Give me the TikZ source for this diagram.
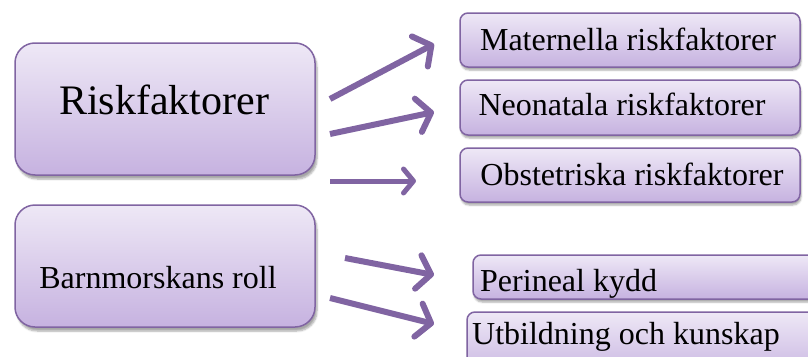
\documentclass[tikz,border=0pt]{standalone}
\usepackage{fontspec}
\setmainfont{Liberation Serif}
\usetikzlibrary{arrows.meta,shadows,shadows.blur}
\definecolor{boxtop}{HTML}{EEE8F6}
\definecolor{boxbot}{HTML}{C6B2E0}
\definecolor{boxline}{HTML}{8064A2}
\definecolor{arrowc}{HTML}{8064A2}
\tikzset{
  bigbox/.style={draw=boxline, line width=1.5pt, rounded corners=20pt,
    top color=boxtop, bottom color=boxbot,
    blur shadow={shadow xshift=2pt, shadow yshift=-4pt, shadow blur steps=6, shadow opacity=35}},
  smallbox/.style={draw=boxline, line width=1.5pt, rounded corners=8pt,
    top color=boxtop, bottom color=boxbot,
    blur shadow={shadow xshift=1pt, shadow yshift=-3pt, shadow blur steps=5, shadow opacity=35}},
  conn/.style={draw=arrowc, line width=6pt,
    -{Straight Barb[length=13pt, width=34pt, round]}},
  connsmall/.style={draw=arrowc, line width=5pt,
    -{Straight Barb[length=10pt, width=24pt, round]}},
  ctext/.style={anchor=base, inner sep=0pt, text=black, font=\fontsize{32}{32}\selectfont},
  lbl/.style={anchor=base west, inner sep=0pt, text=black, font=\fontsize{32}{32}\selectfont}
}
\begin{document}
\begin{tikzpicture}[x=1pt, y=-1pt]
\useasboundingbox (0,0) rectangle (808,356);
\begin{scope}
\clip (0,0) rectangle (808,356);
% left boxes
\path[bigbox] (15,43) rectangle (315,175);
\node[ctext, font=\fontsize{42}{42}\selectfont] (rf) at (164,114) {Riskfaktorer};
\path[bigbox] (15,205) rectangle (315,327);
\node[ctext] (bm) at (158,288) {Barnmorskans roll};
% right boxes
\path[smallbox] (460,13) rectangle (800,67);
\node[ctext] (mat) at (628,50) {Maternella riskfaktorer};
\path[smallbox] (460,80) rectangle (800,135);
\node[ctext] (neo) at (622,115) {Neonatala riskfaktorer};
\path[smallbox] (460,148) rectangle (800,202);
\node[ctext] (obs) at (632,185) {Obstetriska riskfaktorer};
\path[smallbox] (473,255) rectangle (830,299);
\node[lbl] (per) at (480,291) {Perineal kydd};
\path[smallbox] (467,312) rectangle (830,380);
\node[lbl] (utb) at (472,344) {Utbildning och kunskap};
% arrow endpoints
\coordinate (a1s) at (330,99);  \coordinate (a1e) at (434,44);
\coordinate (a2s) at (330,134); \coordinate (a2e) at (434,112);
\coordinate (a3s) at (330,181); \coordinate (a3e) at (416,181);
\coordinate (a4s) at (345,258); \coordinate (a4e) at (434,275);
\coordinate (a5s) at (330,298); \coordinate (a5e) at (434,324);
\draw[conn] (a1s) -- (a1e);
\draw[conn] (a2s) -- (a2e);
\draw[connsmall] (a3s) -- (a3e);
\draw[conn] (a4s) -- (a4e);
\draw[conn] (a5s) -- (a5e);
\end{scope}
\end{tikzpicture}
\end{document}
